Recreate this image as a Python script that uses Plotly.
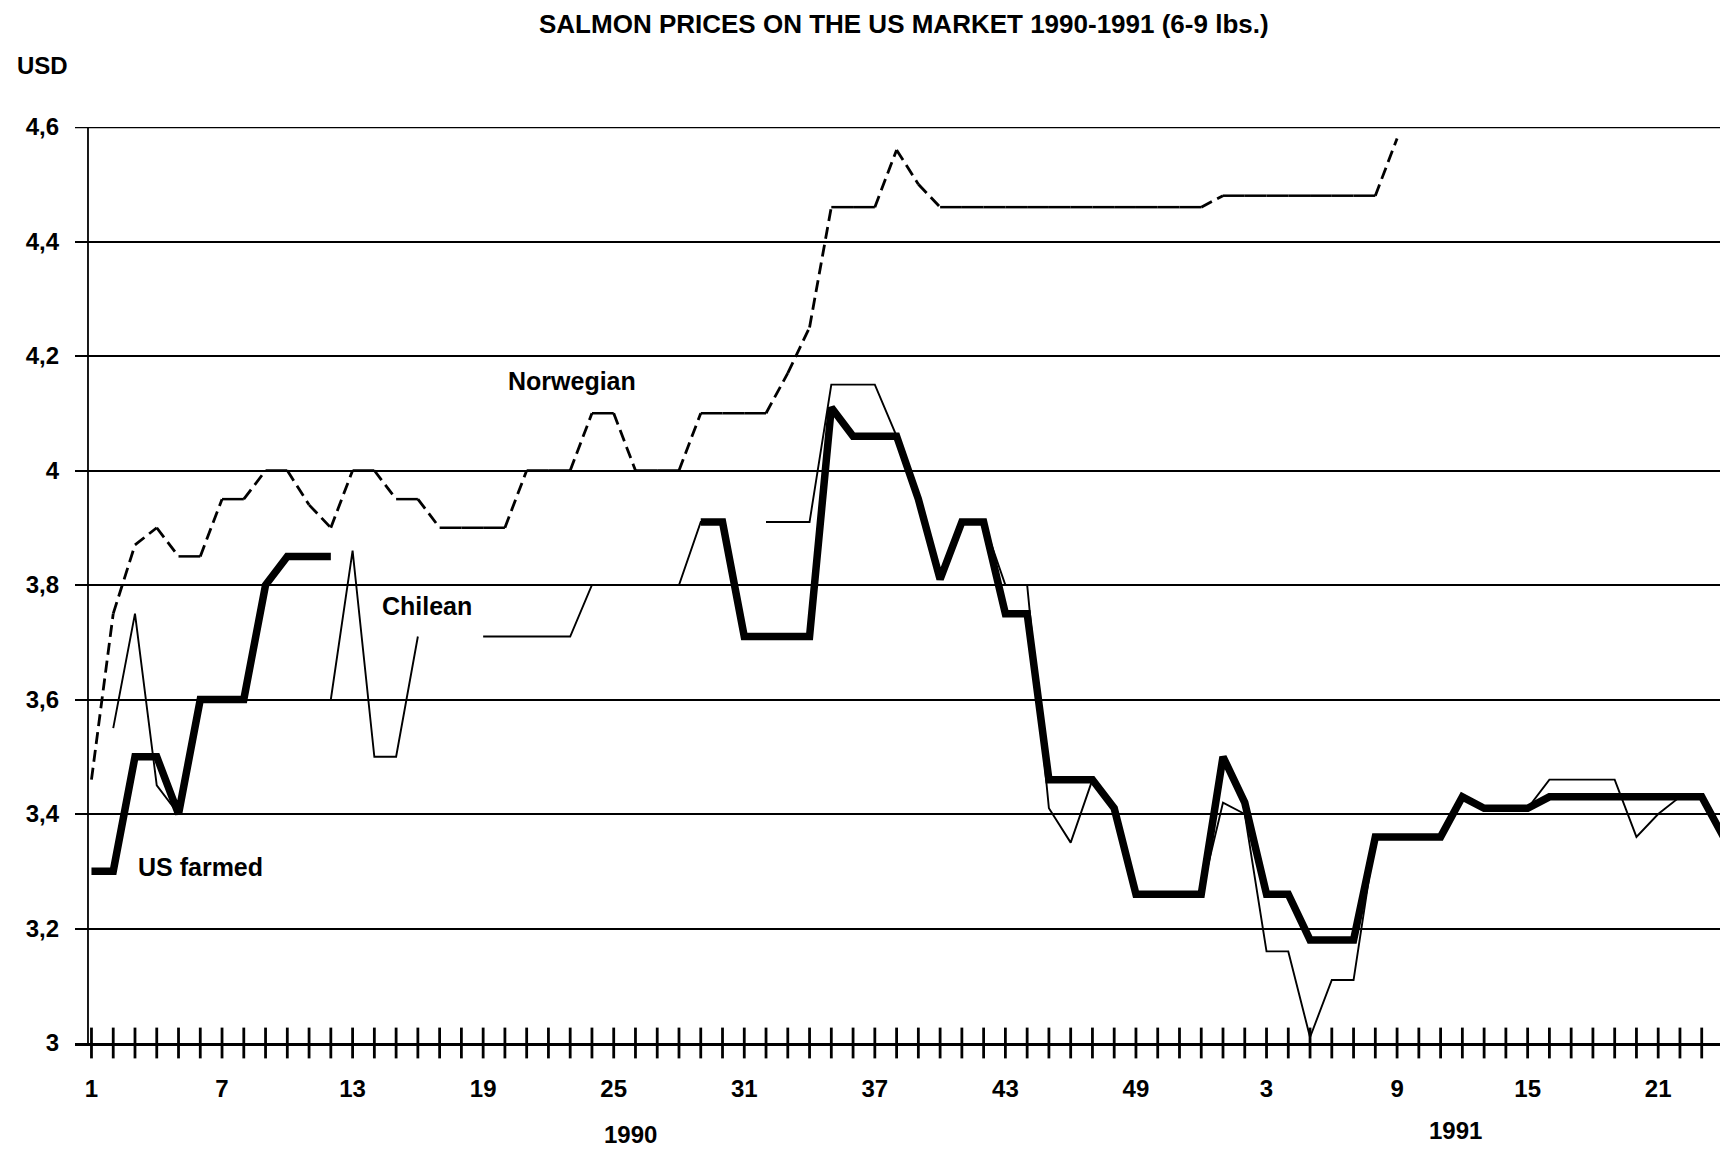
import plotly.graph_objects as go

# ---------------- data ----------------
weeks_1990 = list(range(1, 53))
weeks_1991 = list(range(1, 25))
week_labels = [str(w) for w in weeks_1990 + weeks_1991]
idx = list(range(1, len(week_labels) + 1))

tick_weeks_idx = [1, 7, 13, 19, 25, 31, 37, 43, 49, 55, 61, 67, 73]

y_tick_vals = [3.0, 3.2, 3.4, 3.6, 3.8, 4.0, 4.2, 4.4, 4.6]
y_tick_text = ["3", "3,2", "3,4", "3,6", "3,8", "4", "4,2", "4,4", "4,6"]

us_farmed = [3.30, 3.30, 3.50, 3.50, 3.40, 3.60, 3.60, 3.60, 3.80, 3.85,
             3.85, 3.85, None, None, None, None, None, None, None, None,
             None, None, None, None, None, None, None, None, 3.91, 3.91,
             3.71, 3.71, 3.71, 3.71, 4.11, 4.06, 4.06, 4.06, 3.95, 3.81,
             3.91, 3.91, 3.75, 3.75, 3.46, 3.46, 3.46, 3.41, 3.26, 3.26,
             3.26, 3.26, 3.50, 3.42, 3.26, 3.26, 3.18, 3.18, 3.18, 3.36,
             3.36, 3.36, 3.36, 3.43, 3.41, 3.41, 3.41, 3.43, 3.43, 3.43,
             3.43, 3.43, 3.43, 3.43, 3.43, 3.36]

chilean = [None, 3.55, 3.75, 3.45, 3.40, None, None, None, None, None,
           None, 3.60, 3.86, 3.50, 3.50, 3.71, None, None, 3.71, 3.71,
           3.71, 3.71, 3.71, 3.80, 3.80, 3.80, 3.80, 3.80, 3.91, 3.91,
           None, 3.91, 3.91, 3.91, 4.15, 4.15, 4.15, 4.06, 3.95, 3.81,
           3.91, 3.91, 3.80, 3.80, 3.41, 3.35, 3.46, 3.41, 3.26, 3.26,
           3.26, 3.26, 3.42, 3.40, 3.16, 3.16, 3.01, 3.11, 3.11, 3.36,
           3.36, 3.36, 3.36, 3.43, 3.41, 3.41, 3.41, 3.46, 3.46, 3.46,
           3.46, 3.36, 3.40, 3.43, 3.43, 3.36]

norwegian = [3.46, 3.75, 3.87, 3.90, 3.85, 3.85, 3.95, 3.95, 4.00, 4.00,
             3.94, 3.90, 4.00, 4.00, 3.95, 3.95, 3.90, 3.90, 3.90, 3.90,
             4.00, 4.00, 4.00, 4.10, 4.10, 4.00, 4.00, 4.00, 4.10, 4.10,
             4.10, 4.10, 4.17, 4.25, 4.46, 4.46, 4.46, 4.56, 4.50, 4.46,
             4.46, 4.46, 4.46, 4.46, 4.46, 4.46, 4.46, 4.46, 4.46, 4.46,
             4.46, 4.46, 4.48, 4.48, 4.48, 4.48, 4.48, 4.48, 4.48, 4.48,
             4.58, None, None, None, None, None, None, None, None, None,
             None, None, None, None, None, None]

FONT = "Liberation Sans, Arial, Helvetica, sans-serif"

# Norwegian: flat stretches print solid, moving stretches print dashed
flat_x, flat_y, move_x, move_y = [], [], [], []
for i in range(len(norwegian) - 1):
    a, b = norwegian[i], norwegian[i + 1]
    if a is None or b is None:
        continue
    if abs(a - b) < 1e-9:
        flat_x += [idx[i], idx[i + 1], None]
        flat_y += [a, b, None]
    else:
        move_x += [idx[i], idx[i + 1], None]
        move_y += [a, b, None]

fig = go.Figure()

fig.add_trace(go.Scatter(x=flat_x, y=flat_y, mode="lines",
                         line=dict(color="black", width=2.5),
                         hoverinfo="skip", showlegend=False))
fig.add_trace(go.Scatter(x=move_x, y=move_y, mode="lines",
                         line=dict(color="black", width=2.8, dash="12px,6px"),
                         hoverinfo="skip", showlegend=False))
fig.add_trace(go.Scatter(x=idx, y=chilean, mode="lines",
                         line=dict(color="black", width=1.9),
                         connectgaps=False, hoverinfo="skip", showlegend=False))
fig.add_trace(go.Scatter(x=idx, y=us_farmed, mode="lines",
                         line=dict(color="black", width=7.5),
                         connectgaps=False, hoverinfo="skip", showlegend=False))

# crossing tick marks on the week axis
fig.add_trace(go.Scatter(x=idx, y=[3.0] * len(idx), mode="markers",
                         marker=dict(symbol="line-ns", size=22,
                                     line=dict(color="black", width=2.8)),
                         cliponaxis=False, hoverinfo="skip", showlegend=False))

# y axis line and top grid line
fig.add_shape(type="line", xref="x", yref="y", x0=0.84, x1=0.84, y0=3.0, y1=4.6,
              line=dict(color="black", width=1.8))
fig.add_shape(type="line", xref="paper", yref="y", x0=0, x1=1, y0=4.6, y1=4.6,
              line=dict(color="black", width=2.4))

label_font = dict(family=FONT, size=25, color="black")
fig.add_annotation(x=23.1, y=4.156, xref="x", yref="y", text="<b>Norwegian</b>",
                   showarrow=False, font=label_font)
fig.add_annotation(x=16.4, y=3.763, xref="x", yref="y", text="<b>Chilean</b>",
                   showarrow=False, font=label_font)
fig.add_annotation(x=6.0, y=3.308, xref="x", yref="y", text="<b>US farmed</b>",
                   showarrow=False, font=label_font)

fig.add_annotation(x=0.5024, y=1.1124, xref="paper", yref="paper",
                   xanchor="center", yanchor="middle",
                   text="<b>SALMON PRICES ON THE US MARKET 1990-1991 (6-9 lbs.)</b>",
                   showarrow=False, font=dict(family=FONT, size=26, color="black"))
fig.add_annotation(x=-0.0195, y=1.0666, xref="paper", yref="paper",
                   xanchor="center", yanchor="middle", text="<b>USD</b>",
                   showarrow=False, font=dict(family=FONT, size=24, color="black"))
fig.add_annotation(x=25.76, y=-0.1004, xref="x", yref="paper",
                   xanchor="center", yanchor="middle", text="<b>1990</b>",
                   showarrow=False, font=dict(family=FONT, size=24, color="black"))
fig.add_annotation(x=63.7, y=-0.095, xref="x", yref="paper",
                   xanchor="center", yanchor="middle", text="<b>1991</b>",
                   showarrow=False, font=dict(family=FONT, size=24, color="black"))

fig.update_layout(
    width=1728, height=1152,
    margin=dict(l=67, r=11, t=119, b=117),
    paper_bgcolor="white", plot_bgcolor="white",
    showlegend=False, hovermode=False,
    font=dict(family=FONT, size=24, color="black"),
)
fig.update_xaxes(
    range=[0.243, 76.07], showgrid=False, zeroline=False,
    showline=True, linecolor="black", linewidth=2.6,
    tickmode="array", tickvals=tick_weeks_idx,
    ticktext=["<b>%s</b>" % week_labels[i - 1] for i in tick_weeks_idx],
    ticks="", ticklabelstandoff=22,
    tickfont=dict(family=FONT, size=24, color="black"),
)
fig.update_yaxes(
    range=[3.0, 4.6], showgrid=True, gridcolor="black", gridwidth=2.4,
    zeroline=False, showline=False,
    tickmode="array", tickvals=y_tick_vals,
    ticktext=["<b>%s</b>" % t for t in y_tick_text],
    ticks="", ticklabelstandoff=15,
    tickfont=dict(family=FONT, size=24, color="black"),
)

fig.write_html("out.html", config={"displayModeBar": False})
